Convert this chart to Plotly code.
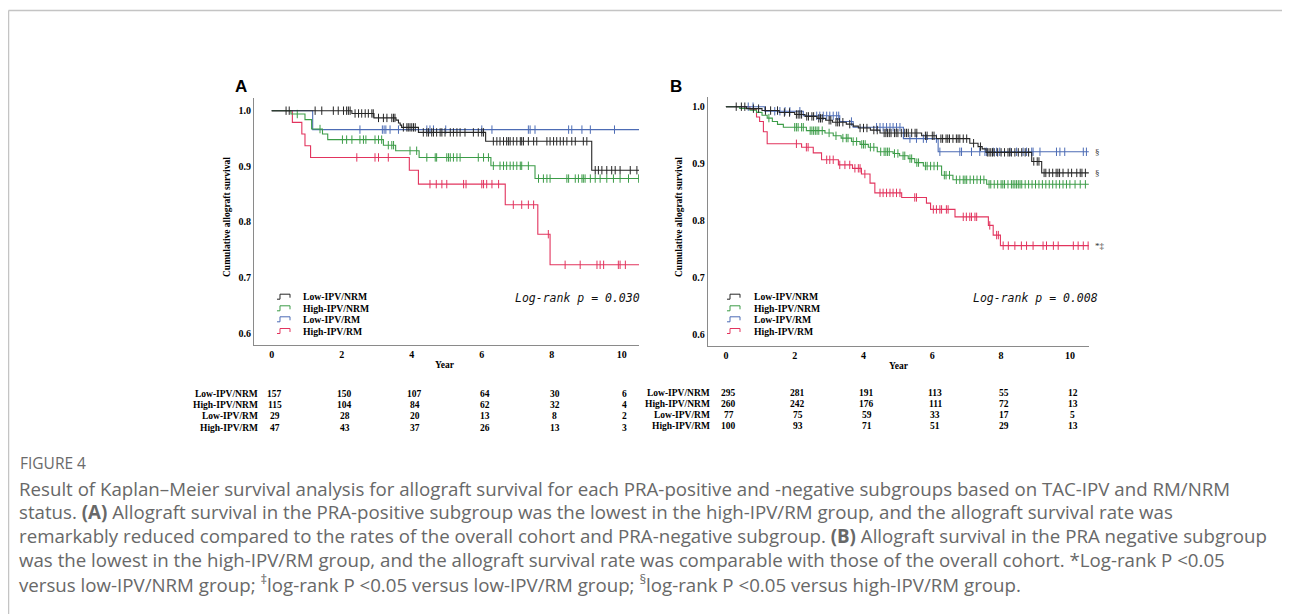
import numpy as np
import plotly.graph_objects as go

# page offset of the plot div (body margin) is compensated here
OFF = 8
W, H = 1290 - OFF, 614 - OFF

groups = ["Low-IPV/NRM", "High-IPV/NRM", "Low-IPV/RM", "High-IPV/RM"]
colors = ["#262626", "#3c9c48", "#4d6cb5", "#e2345e"]
x_ticks = [0, 2, 4, 6, 8, 10]
y_ticks = [0.6, 0.7, 0.8, 0.9, 1.0]

# ---------------- Panel A (PRA-positive) ----------------
A_end = 10.5
A_lownrm_t = [2.29, 2.92, 3.55, 3.62, 3.67, 3.71, 4.19, 6.11, 9.14]
A_lownrm_s = [0.995, 0.987, 0.983, 0.978, 0.974, 0.970, 0.961, 0.945, 0.893]
A_lownrm_c = [0.41, 0.50, 1.24, 1.43, 1.76, 1.90, 2.05, 2.14, 2.19, 2.24, 2.38, 2.48, 2.57, 2.67,
              2.76, 2.86, 2.90, 3.05, 3.19, 3.29, 3.43, 3.48, 3.52, 3.76, 3.86, 3.90, 3.95, 4.00,
              4.05, 4.10, 4.33, 4.43, 4.48, 4.57, 4.62, 4.71, 4.81, 4.86, 4.95, 5.10, 5.19, 5.29,
              5.38, 5.52, 5.76, 5.90, 6.00, 6.05, 6.33, 6.43, 6.52, 6.62, 6.71, 6.76, 6.81, 6.90,
              7.00, 7.10, 7.14, 7.19, 7.33, 7.48, 7.57, 7.86, 7.95, 8.05, 8.14, 8.24, 8.33, 8.43,
              8.57, 8.67, 8.90, 9.00, 9.24, 9.33, 9.43, 9.57, 9.71, 9.81, 9.95, 10.24, 10.43]

A_highnrm_t = [0.55, 0.95, 1.14, 1.45, 1.60, 3.19, 3.54, 4.21, 6.26, 7.52]
A_highnrm_s = [0.994, 0.984, 0.967, 0.958, 0.948, 0.938, 0.928, 0.916, 0.901, 0.878]
A_highnrm_c = [0.73, 1.38, 2.02, 2.14, 2.29, 2.52, 2.62, 2.69, 2.95, 3.05, 3.14, 3.33, 3.43, 3.48,
               3.95, 4.14, 4.43, 4.67, 4.71, 5.00, 5.05, 5.10, 5.19, 5.29, 5.38, 5.90, 6.05, 6.19,
               6.33, 6.52, 6.62, 6.71, 6.81, 6.90, 7.00, 7.10, 7.14, 7.33, 7.62, 7.76, 7.86, 7.95,
               8.43, 8.48, 8.67, 8.76, 8.86, 8.90, 8.95, 9.10, 9.24, 9.38, 9.57, 9.76, 9.95,
               10.19, 10.48]

A_lowrm_t = [1.17]
A_lowrm_s = [0.966]
A_lowrm_c = [2.52, 3.16, 3.21, 3.26, 3.38, 3.62, 4.43, 4.52, 4.62, 4.97, 6.00, 6.29, 7.33, 7.38,
             7.52, 8.48, 8.57, 8.86, 9.10, 9.79]

A_highrm_t = [0.59, 0.86, 0.95, 1.11, 3.93, 4.19, 6.67, 7.60, 7.95]
A_highrm_s = [0.979, 0.958, 0.937, 0.916, 0.893, 0.868, 0.831, 0.778, 0.723]
A_highrm_c = [2.43, 2.95, 3.05, 3.33, 4.52, 4.70, 4.86, 5.00, 5.48, 5.55, 6.00, 6.05, 6.14, 6.29,
              6.48, 6.90, 7.14, 7.33, 7.48, 7.90, 8.38, 8.81, 9.29, 9.38, 9.48, 9.90, 9.95, 10.10]

A_risk = [[157, 150, 107, 64, 30, 6],
          [115, 104, 84, 62, 32, 4],
          [29, 28, 20, 13, 8, 2],
          [47, 43, 37, 26, 13, 3]]
A_pvalue = "Log-rank p = 0.030"
A_marks = ["§", "", "", "*"]

# ---------------- Panel B (PRA-negative) ----------------
B_end = 10.55
B_lownrm_t = [0.60, 1.05, 1.55, 2.00, 2.30, 2.65, 2.90, 3.10, 3.50, 3.70, 3.85, 4.20, 4.48,
              5.69, 6.12, 7.09, 7.33, 7.45, 7.56, 8.89, 9.18]
B_lownrm_s = [0.9966, 0.9932, 0.9898, 0.9864, 0.9830, 0.9796, 0.9762, 0.9728, 0.9694, 0.9660,
              0.9626, 0.9590, 0.9540, 0.9490, 0.9440, 0.9360, 0.9300, 0.9260, 0.9200, 0.9040,
              0.8840]
B_lownrm_c = [0.30, 0.45, 0.55, 0.80, 0.95, 1.15, 1.30, 1.50, 1.70, 1.85, 2.05, 2.10, 2.15, 2.20,
              2.35, 2.40, 2.50, 2.55, 2.70, 2.75, 2.80, 3.00, 3.05, 3.20, 3.25, 3.30, 3.40, 3.60,
              3.90, 4.00, 4.10, 4.30, 4.40, 4.60, 4.65, 4.70, 4.75, 4.80, 4.90, 4.95, 5.00, 5.10,
              5.20, 5.25, 5.30, 5.40, 5.50, 5.55, 5.80, 5.85, 6.00, 6.05, 6.25, 6.30, 6.40, 6.45,
              6.50, 6.60, 6.70, 6.75, 6.80, 6.90, 7.00, 7.20, 7.40, 7.60, 7.65, 7.70, 7.75, 7.80,
              7.90, 8.00, 8.10, 8.20, 8.25, 8.30, 8.40, 8.50, 8.60, 8.70, 8.80, 8.95, 9.05, 9.10,
              9.25, 9.30, 9.40, 9.50, 9.60, 9.65, 9.70, 9.80, 9.95, 10.05, 10.20, 10.30, 10.35,
              10.45]

B_highnrm_t = [0.40, 0.70, 0.89, 1.05, 1.20, 1.35, 1.50, 1.67, 2.34, 2.88, 3.12, 3.35, 3.65,
               3.90, 4.14, 4.40, 4.86, 5.05, 5.30, 5.49, 5.74, 6.27, 6.60, 7.58]
B_highnrm_s = [0.997, 0.994, 0.990, 0.985, 0.980, 0.974, 0.969, 0.964, 0.958, 0.954, 0.949,
               0.945, 0.939, 0.934, 0.929, 0.921, 0.918, 0.914, 0.909, 0.902, 0.896, 0.880,
               0.872, 0.864]
B_highnrm_c = [1.25, 2.00, 2.05, 2.10, 2.20, 2.25, 2.45, 2.50, 2.55, 2.60, 2.65, 2.70, 2.80, 3.00,
               3.20, 3.40, 3.50, 3.55, 3.70, 3.80, 3.95, 4.00, 4.05, 4.20, 4.30, 4.50, 4.60, 4.65,
               4.70, 4.75, 4.90, 5.00, 5.15, 5.20, 5.35, 5.40, 5.55, 5.60, 5.80, 5.85, 5.95, 6.05,
               6.15, 6.35, 6.40, 6.50, 6.70, 6.80, 6.90, 6.95, 7.00, 7.10, 7.20, 7.30, 7.40, 7.50,
               7.65, 7.70, 7.80, 7.90, 8.00, 8.05, 8.10, 8.20, 8.30, 8.35, 8.40, 8.45, 8.50, 8.55,
               8.60, 8.70, 8.80, 8.90, 9.00, 9.10, 9.20, 9.30, 9.40, 9.50, 9.60, 9.70, 9.80, 9.90,
               10.00, 10.15, 10.30, 10.45]

B_lowrm_t = [1.13, 2.25, 3.31, 3.70, 5.16, 6.17]
B_lowrm_s = [0.992, 0.984, 0.974, 0.964, 0.944, 0.921]
B_lowrm_c = [0.65, 0.79, 1.42, 1.57, 1.72, 1.86, 2.15, 2.64, 2.73, 2.83, 2.93, 3.02, 3.12, 3.22,
             3.28, 3.65, 4.38, 4.48, 4.57, 4.67, 4.77, 4.86, 4.96, 5.06, 5.35, 5.54, 5.74, 5.83,
             6.12, 6.22, 6.80, 6.85, 7.14, 7.38, 7.53, 7.58, 7.77, 7.87, 7.96, 8.26, 8.45, 8.64,
             8.74, 8.89, 8.93, 9.13, 9.61, 9.71, 9.85, 10.39, 10.48]

B_highrm_t = [0.70, 0.89, 0.98, 1.09, 1.20, 2.20, 2.54, 2.78, 3.27, 3.68, 3.94, 4.19, 4.33,
              5.11, 5.83, 5.95, 6.66, 7.63, 7.77, 7.98]
B_highrm_s = [0.995, 0.982, 0.974, 0.956, 0.935, 0.929, 0.919, 0.907, 0.898, 0.892, 0.882,
              0.866, 0.849, 0.841, 0.831, 0.820, 0.807, 0.792, 0.775, 0.7565]
B_highrm_c = [2.05, 2.34, 2.39, 2.93, 3.02, 3.12, 3.31, 3.46, 3.60, 3.75, 3.85, 3.90, 4.04, 4.48,
              4.57, 4.67, 4.77, 4.86, 4.96, 5.06, 5.49, 5.54, 6.03, 6.12, 6.22, 6.27, 6.41, 6.46,
              6.90, 6.99, 7.09, 7.14, 7.24, 7.29, 7.67, 7.87, 7.92, 8.06, 8.21, 8.40, 8.59, 8.74,
              8.93, 9.22, 9.32, 9.52, 9.66, 10.10, 10.24, 10.39, 10.53]

B_risk = [[295, 281, 191, 113, 55, 12],
          [260, 242, 176, 111, 72, 13],
          [77, 75, 59, 33, 17, 5],
          [100, 93, 71, 51, 29, 13]]
B_pvalue = "Log-rank p = 0.008"
B_marks = ["§", "", "§", "*‡"]

caption_head = "FIGURE 4"
caption_lines = [
    "Result of Kaplan\u2013Meier survival analysis for allograft survival for each PRA-positive and -negative subgroups based on TAC-IPV and RM/NRM",
    "status. <b>(A)</b> Allograft survival in the PRA-positive subgroup was the lowest in the high-IPV/RM group, and the allograft survival rate was",
    "remarkably reduced compared to the rates of the overall cohort and PRA-negative subgroup. <b>(B)</b> Allograft survival in the PRA negative subgroup",
    "was the lowest in the high-IPV/RM group, and the allograft survival rate was comparable with those of the overall cohort. *Log-rank P &lt;0.05",
    "versus low-IPV/NRM group; <sup>\u2021</sup>log-rank P &lt;0.05 versus low-IPV/RM group; <sup>\u00a7</sup>log-rank P &lt;0.05 versus high-IPV/RM group.",
]

# ---------------- helpers (page pixel -> paper) ----------------
def px(x):
    return (x - OFF) / W

def py(y):
    return 1 - (y - OFF) / H

def surv_at(ev_t, ev_s, t):
    ev_t = np.asarray(ev_t)
    idx = np.searchsorted(ev_t, t, side="right") - 1
    vals = np.concatenate([[1.0], np.asarray(ev_s)])
    return vals[idx + 1]

SERIF = "Liberation Serif"
fig = go.Figure()

panels = [
    dict(name="A", xa="x", ya="y", end=A_end,
         series=[(A_lownrm_t, A_lownrm_s, A_lownrm_c), (A_highnrm_t, A_highnrm_s, A_highnrm_c),
                 (A_lowrm_t, A_lowrm_s, A_lowrm_c), (A_highrm_t, A_highrm_s, A_highrm_c)],
         risk=A_risk, pval=A_pvalue, marks=A_marks,
         xdom=(254, 639), ydom=(98, 345), xr=[-0.506, 10.49],
         yr=[0.5789, 1.0228],
         label_xy=(241, 87), ylab_x=227, year_xy=(445, 365),
         leg_x=277, leg_text_x=301, leg_rows=[296.7, 308.3, 319.3, 331],
         p_xy=(642, 298), risk_lab_x=260, risk_rows=[394, 405, 416, 427.5]),
    dict(name="B", xa="x2", ya="y2", end=B_end,
         series=[(B_lownrm_t, B_lownrm_s, B_lownrm_c), (B_highnrm_t, B_highnrm_s, B_highnrm_c),
                 (B_lowrm_t, B_lowrm_s, B_lowrm_c), (B_highrm_t, B_highrm_s, B_highrm_c)],
         risk=B_risk, pval=B_pvalue, marks=B_marks,
         xdom=(707.7, 1089.3), ydom=(96.7, 346), xr=[-0.529, 10.564],
         yr=[0.5807, 1.0175],
         label_xy=(676, 87), ylab_x=679, year_xy=(899, 366),
         leg_x=727, leg_text_x=752, leg_rows=[296.7, 308.3, 319.3, 331],
         p_xy=(1100, 298), risk_lab_x=712, risk_rows=[392.5, 403.5, 414.5, 425.5]),
]

annotations = []
shapes = []
order = [3, 2, 1, 0]
for p in panels:
    for gi in order:
        ev_t, ev_s, cens = p["series"][gi]
        xs = [0.0] + list(ev_t) + [p["end"]]
        ys = [1.0] + list(ev_s) + [ev_s[-1]]
        fig.add_trace(go.Scatter(x=xs, y=ys, mode="lines", line=dict(color=colors[gi], width=1.1, shape="hv"),
                                 xaxis=p["xa"], yaxis=p["ya"], hoverinfo="skip", showlegend=False))
        cy = surv_at(ev_t, ev_s, np.asarray(cens))
        fig.add_trace(go.Scatter(x=cens, y=cy, mode="markers",
                                 marker=dict(symbol="line-ns", size=6, line=dict(color=colors[gi], width=1)),
                                 xaxis=p["xa"], yaxis=p["ya"], hoverinfo="skip", showlegend=False))
        if p["marks"][gi]:
            annotations.append(dict(x=p["end"], y=ev_s[-1], xref=p["xa"], yref=p["ya"],
                                    text=p["marks"][gi], showarrow=False, xanchor="left", xshift=4,
                                    font=dict(family=SERIF, size=9, color="#333")))
    # panel letter
    annotations.append(dict(x=px(p["label_xy"][0]), y=py(p["label_xy"][1]), xref="paper", yref="paper",
                            text="<b>%s</b>" % p["name"], showarrow=False, xanchor="center", yanchor="middle",
                            font=dict(family="Liberation Sans", size=17, color="#000")))
    # y label
    annotations.append(dict(x=px(p["ylab_x"]), y=py(217), xref="paper", yref="paper", textangle=-90,
                            text="<b>Cumulative allograft survival</b>", showarrow=False,
                            xanchor="center", yanchor="middle", font=dict(family=SERIF, size=9.5, color="#000")))
    # x label
    annotations.append(dict(x=px(p["year_xy"][0]), y=py(p["year_xy"][1]), xref="paper", yref="paper",
                            text="<b>Year</b>", showarrow=False, xanchor="center", yanchor="middle",
                            font=dict(family=SERIF, size=9.5, color="#000")))
    # legend
    for gi, r in enumerate(p["leg_rows"]):
        x0 = p["leg_x"]
        path = "M %f,%f L %f,%f L %f,%f L %f,%f L %f,%f" % (
            px(x0), py(r + 2.5), px(x0 + 3), py(r + 2.5), px(x0 + 3), py(r - 2.5),
            px(x0 + 13), py(r - 2.5), px(x0 + 13), py(r + 1))
        shapes.append(dict(type="path", path=path, xref="paper", yref="paper",
                           line=dict(color=colors[gi], width=1)))
        annotations.append(dict(x=px(p["leg_text_x"]), y=py(r), xref="paper", yref="paper",
                                text="<b>%s</b>" % groups[gi], showarrow=False, xanchor="left",
                                yanchor="middle", font=dict(family=SERIF, size=9.7, color="#000")))
    # p-value
    annotations.append(dict(x=px(p["p_xy"][0]), y=py(p["p_xy"][1]), xref="paper", yref="paper",
                            text="<i>%s</i>" % p["pval"], showarrow=False, xanchor="right", yanchor="middle",
                            font=dict(family="DejaVu Sans Mono", size=11.5, color="#111")))
    # number at risk table
    for gi, r in enumerate(p["risk_rows"]):
        annotations.append(dict(x=px(p["risk_lab_x"]), y=py(r), xref="paper", yref="paper",
                                text="<b>%s</b>" % groups[gi], showarrow=False, xanchor="right",
                                yanchor="middle", font=dict(family=SERIF, size=9.5, color="#000")))
        for j, tv in enumerate(x_ticks):
            annotations.append(dict(x=tv, y=py(r), xref=p["xa"], yref="paper",
                                    text="<b>%d</b>" % p["risk"][gi][j], showarrow=False, xanchor="center",
                                    yanchor="middle", xshift=3,
                                    font=dict(family=SERIF, size=9.5, color="#000")))

# caption
annotations.append(dict(x=px(18), y=py(463), xref="paper", yref="paper", text=caption_head,
                        showarrow=False, xanchor="left", yanchor="middle",
                        font=dict(family="Open Sans", size=15.5, color="#6a6a6a")))
for i, line in enumerate(caption_lines):
    annotations.append(dict(x=px(17), y=py(488 + 23.8 * i), xref="paper", yref="paper", text=line,
                            showarrow=False, xanchor="left", yanchor="middle",
                            font=dict(family="Open Sans", size=18.7, color="#686868")))

# frame
shapes.append(dict(type="line", xref="paper", yref="paper", x0=px(8.5), x1=1.0, y0=py(10.5), y1=py(10.5),
                   line=dict(color="#c4c4c4", width=1.5)))
shapes.append(dict(type="line", xref="paper", yref="paper", x0=px(8.5), x1=px(8.5), y0=py(10.5), y1=0,
                   line=dict(color="#c4c4c4", width=1.5)))

axis_common = dict(showline=True, linecolor="#8a8a8a", linewidth=1, ticks="", showgrid=False,
                   zeroline=False, tickfont=dict(family=SERIF, size=10, color="#000"))

pa, pb = panels
fig.update_layout(
    width=W, height=H, margin=dict(l=0, r=0, t=0, b=0),
    paper_bgcolor="white", plot_bgcolor="white", showlegend=False,
    xaxis=dict(domain=[px(pa["xdom"][0]), px(pa["xdom"][1])], range=pa["xr"], tickvals=x_ticks,
               ticktext=["<b>%d</b>" % v for v in x_ticks], anchor="y", **axis_common),
    yaxis=dict(domain=[py(pa["ydom"][1]), py(pa["ydom"][0])], range=pa["yr"], tickvals=y_ticks,
               ticktext=["<b>%.1f</b>" % v for v in y_ticks], anchor="x", **axis_common),
    xaxis2=dict(domain=[px(pb["xdom"][0]), px(pb["xdom"][1])], range=pb["xr"], tickvals=x_ticks,
                ticktext=["<b>%d</b>" % v for v in x_ticks], anchor="y2", **axis_common),
    yaxis2=dict(domain=[py(pb["ydom"][1]), py(pb["ydom"][0])], range=pb["yr"], tickvals=y_ticks,
                ticktext=["<b>%.1f</b>" % v for v in y_ticks], anchor="x2", **axis_common),
    annotations=annotations, shapes=shapes,
)

fig.write_html("out.html")
